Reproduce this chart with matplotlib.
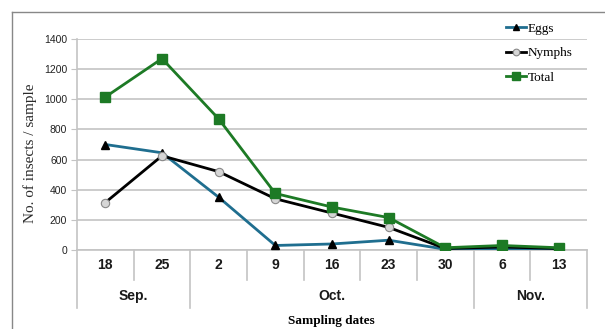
import matplotlib
matplotlib.use("Agg")
from matplotlib import pyplot as plt
from matplotlib.lines import Line2D

# data
days = ['18', '25', '2', '9', '16', '23', '30', '6', '13']
months = ['Sep.', 'Oct.', 'Nov.']
month_spans = [(0, 2), (2, 7), (7, 9)]  # [start, end) index into days
eggs = [700, 645, 350, 30, 40, 65, 5, 5, 5]
nymphs = [315, 625, 520, 340, 245, 150, 10, 20, 10]
total = [1015, 1270, 870, 375, 285, 215, 15, 30, 15]

sans = 'Liberation Sans'
serif = 'Liberation Serif'
grid_col = '#c4c4c4'

fig = plt.figure(figsize=(6.05, 3.29), dpi=100)
ax = fig.add_axes([77 / 605, 1 - 250 / 329, 510 / 605, 211 / 329])

x = list(range(len(days)))
ax.plot(x, eggs, color='#1f6e8f', lw=2, marker='^', ms=6,
        mfc='black', mec='black', label='Eggs', zorder=3)
ax.plot(x, nymphs, color='black', lw=2, marker='o', ms=6,
        mfc='#d6d6d6', mec='#888888', mew=0.8, label='Nymphs', zorder=4)
ax.plot(x, total, color='#1d7a25', lw=2, marker='s', ms=7.5,
        mfc='#1d7a25', mec='#1d7a25', label='Total', zorder=5)

ax.set_xlim(-0.5, len(days) - 0.5)
ax.set_ylim(0, 1400)
ax.set_yticks(range(0, 1401, 200))
ax.yaxis.grid(True, color=grid_col, lw=1.2)
ax.set_axisbelow(True)
for s in ['top', 'right']:
    ax.spines[s].set_visible(False)
ax.spines['left'].set_color(grid_col)
ax.spines['bottom'].set_color(grid_col)
ax.spines['left'].set_linewidth(1.2)
ax.spines['bottom'].set_linewidth(1.2)
ax.tick_params(axis='y', length=4, color=grid_col, labelsize=7.5,
               labelcolor='#222222', pad=3)
for lab in ax.get_yticklabels():
    lab.set_fontfamily(sans)
ax.set_xticks([])

# category axis drawn below the plot
tr = ax.get_xaxis_transform()
day_low = -30 / 211
month_low = -58 / 211
month_edges = [a for a, b in month_spans] + [len(days)]
for i in range(len(days) + 1):
    low = month_low if i in month_edges else day_low
    ax.add_line(Line2D([i - 0.5, i - 0.5], [0, low], transform=tr,
                       color=grid_col, lw=1.2, clip_on=False))
for i, d in enumerate(days):
    ax.text(i, -15 / 211, d, transform=tr, ha='center', va='center',
            fontsize=10, fontweight='bold', family=sans, color='#1a1a1a')
for m, (a, b) in zip(months, month_spans):
    ax.text((a + b - 1) / 2, -46 / 211, m, transform=tr, ha='center',
            va='center', fontsize=10, fontweight='bold', family=sans,
            color='#1a1a1a')

fig.text(331 / 605, 1 - 321 / 329, 'Sampling dates', ha='center', va='center',
         fontsize=9.5, fontweight='bold', family=serif)
fig.text(30 / 605, 1 - 153 / 329, 'No. of insects / sample', rotation=90,
         ha='center', va='center', fontsize=11, family=serif,
         color='#2a2a2a')

leg = fig.legend(loc='upper left', bbox_to_anchor=(501 / 605, 1 - 17 / 329),
                 frameon=False, handlelength=1.5, handletextpad=0.1,
                 labelspacing=0.95, markerscale=0.8,
                 prop={'family': serif, 'size': 9.5}, borderaxespad=0)

# partial border of the original figure frame
fig.add_artist(Line2D([12 / 605, 12 / 605], [0, 1 - 12 / 329],
                      transform=fig.transFigure, color='#888888', lw=1))
fig.add_artist(Line2D([12 / 605, 1], [1 - 12 / 329, 1 - 12 / 329],
                      transform=fig.transFigure, color='#888888', lw=1))

fig.savefig('out.png', dpi=100)
